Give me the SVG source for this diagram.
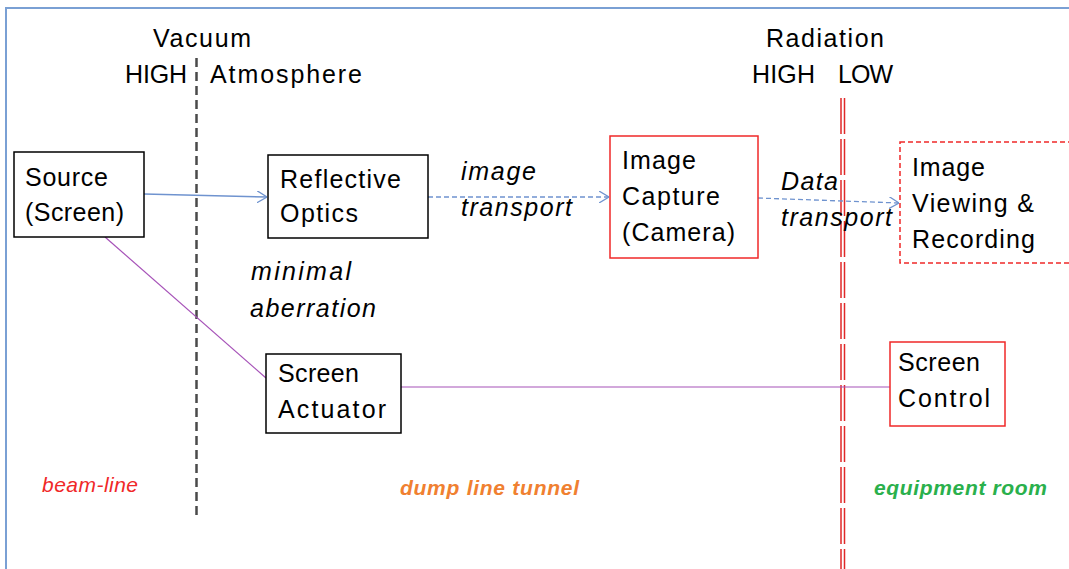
<svg xmlns="http://www.w3.org/2000/svg" width="1069" height="569" viewBox="0 0 1069 569">
<defs>
<style>
.t{font-family:"Liberation Sans",Arial,sans-serif;font-size:25px;fill:#000}
.i{font-style:italic}
.box{fill:#fff;stroke:#000;stroke-width:1.5}
.rbox{fill:#fff;stroke:#f02828;stroke-width:1.5}
.z{font-family:"Liberation Sans",Arial,sans-serif;font-size:21px;font-style:italic}
</style>
<marker id="arr" viewBox="0 0 10 12" refX="10" refY="6" markerWidth="10" markerHeight="12" markerUnits="userSpaceOnUse" orient="auto">
<path d="M0,0 L10,6 L0,12" fill="none" stroke="#6f93cf" stroke-width="1.3"/>
</marker>
</defs>
<rect width="1069" height="569" fill="#fff"/>
<path d="M6,569 V8 H1069" fill="none" stroke="#7aa0d4" stroke-width="2"/>

<g id="dividers">
<line x1="196.5" y1="58" x2="196.5" y2="520" stroke="#4a4a4a" stroke-width="2.5" stroke-dasharray="9,5"/>
<g stroke="#e02828" stroke-width="1.5" stroke-dasharray="36,5">
<line x1="841" y1="98" x2="841" y2="569"/>
<line x1="844.5" y1="98" x2="844.5" y2="569"/>
</g>
</g>

<g id="labels">
<text class="t" x="153" y="47" textLength="98">Vacuum</text>
<text class="t" x="125" y="83" textLength="62">HIGH</text>
<text class="t" x="210" y="83" textLength="152">Atmosphere</text>
<text class="t" x="766" y="47" textLength="118">Radiation</text>
<text class="t" x="752" y="83" textLength="63">HIGH</text>
<text class="t" x="838" y="83" textLength="55">LOW</text>
<text class="t i" x="461" y="180" textLength="75">image</text>
<text class="t i" x="461" y="216" textLength="111">transport</text>
<text class="t i" x="781" y="190" textLength="57">Data</text>
<text class="t i" x="781" y="226" textLength="111">transport</text>
<text class="t i" x="251" y="280" textLength="100">minimal</text>
<text class="t i" x="250" y="317" textLength="126">aberration</text>
<text class="z" x="42" y="492" fill="#f02828" textLength="96">beam-line</text>
<text class="z" x="400" y="495" fill="#f08030" font-weight="bold" textLength="179">dump line tunnel</text>
<text class="z" x="874" y="495" fill="#2ab04c" font-weight="bold" textLength="173">equipment room</text>
</g>

<g id="connectors" fill="none">
<line x1="144" y1="194" x2="267" y2="197" stroke="#6f93cf" stroke-width="1.5" marker-end="url(#arr)"/>
<line x1="428" y1="197" x2="609" y2="197" stroke="#6f93cf" stroke-width="1.3" stroke-dasharray="5,3" marker-end="url(#arr)"/>
<line x1="758" y1="198" x2="899" y2="203" stroke="#6f93cf" stroke-width="1.3" stroke-dasharray="5,3" marker-end="url(#arr)"/>
<line x1="105" y1="237" x2="266" y2="378" stroke="#a652b8" stroke-width="1.2"/>
<line x1="401" y1="387" x2="890" y2="387" stroke="#a652b8" stroke-width="1.2"/>
</g>

<g id="source">
<rect class="box" x="14" y="152" width="130" height="85"/>
<text class="t" x="25" y="186" textLength="83">Source</text>
<text class="t" x="25" y="221" textLength="99">(Screen)</text>
</g>
<g id="optics">
<rect class="box" x="268" y="155" width="160" height="83"/>
<text class="t" x="280" y="188" textLength="121">Reflective</text>
<text class="t" x="280" y="222" textLength="78">Optics</text>
</g>
<g id="capture">
<rect class="rbox" x="610" y="136" width="148" height="122"/>
<text class="t" x="622" y="169" textLength="74">Image</text>
<text class="t" x="622" y="205" textLength="98">Capture</text>
<text class="t" x="622" y="241" textLength="113">(Camera)</text>
</g>
<g id="viewing">
<rect class="rbox" x="900" y="142" width="180" height="121" stroke-dasharray="5,3"/>
<text class="t" x="912" y="176" textLength="73">Image</text>
<text class="t" x="912" y="212" textLength="122">Viewing &amp;</text>
<text class="t" x="912" y="248" textLength="123">Recording</text>
</g>
<g id="actuator">
<rect class="box" x="266" y="354" width="135" height="79"/>
<text class="t" x="278" y="382" textLength="81">Screen</text>
<text class="t" x="278" y="418" textLength="108">Actuator</text>
</g>
<g id="control">
<rect class="rbox" x="890" y="342" width="115" height="84"/>
<text class="t" x="898" y="371" textLength="82">Screen</text>
<text class="t" x="898" y="407" textLength="92">Control</text>
</g>
</svg>
